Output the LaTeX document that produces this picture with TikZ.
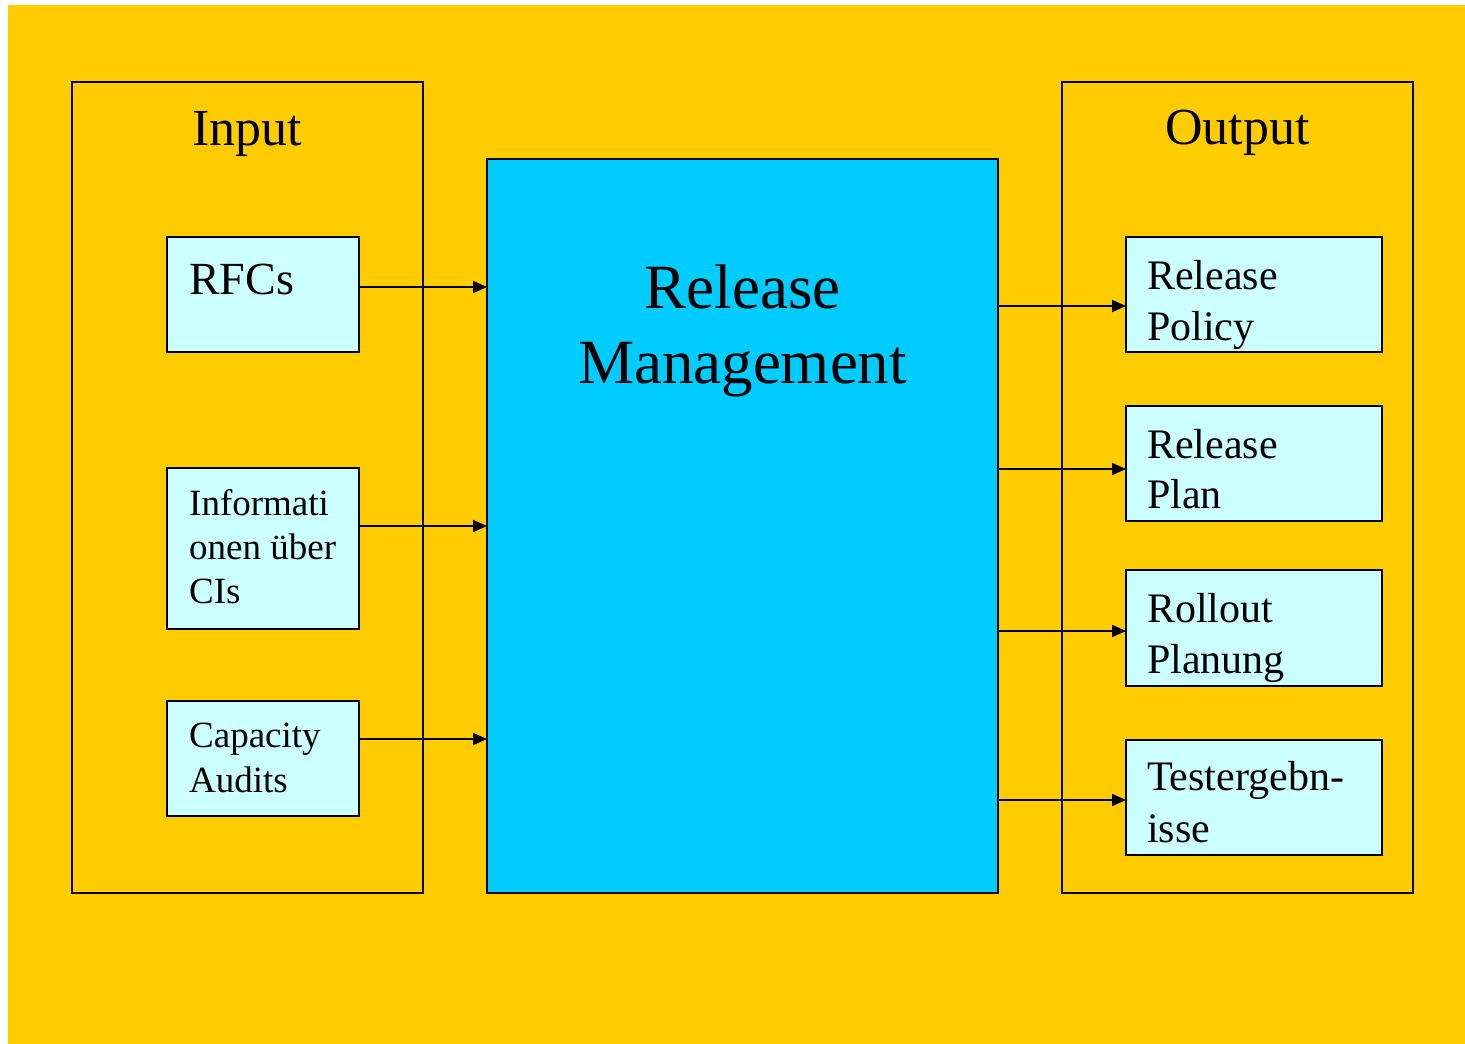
\documentclass[tikz,border=0pt]{standalone}
\usepackage{fontspec}
\setmainfont{Liberation Serif}
\usetikzlibrary{arrows.meta}
\definecolor{bgyellow}{HTML}{FFCC00}
\definecolor{mainblue}{HTML}{00CCFF}
\definecolor{lightcyan}{HTML}{CCFFFF}
\begin{document}
\begin{tikzpicture}[x=1pt,y=-1pt,
  frame/.style={draw=black, line width=2pt, inner sep=0pt, outer sep=0pt, anchor=north west},
  group/.style={frame},
  itembox/.style={frame, fill=lightcyan},
  centrebox/.style={frame, fill=mainblue},
  arr/.style={line width=2pt, -{Triangle[length=14pt,width=12pt]}},
  ttitle/.style={anchor=base, inner sep=0pt, font=\fontsize{52}{62}\selectfont},
  tmain/.style={anchor=base, inner sep=0pt, font=\fontsize{63}{75}\selectfont},
  tbig/.style={anchor=base west, inner sep=0pt, font=\fontsize{46}{55}\selectfont},
  tmid/.style={anchor=base west, inner sep=0pt, font=\fontsize{42}{50}\selectfont},
  tsmall/.style={anchor=base west, inner sep=0pt, font=\fontsize{37}{44}\selectfont}]
\useasboundingbox (0,0) rectangle (1465,1044);
\fill[bgyellow] (8,5) rectangle (1465,1044);

% group frames
\node[group, minimum width=351pt, minimum height=811pt] (infr) at (72,82) {};
\node[group, minimum width=351pt, minimum height=811pt] (outfr) at (1062,82) {};
\node[centrebox, minimum width=511pt, minimum height=734pt] (main) at (487,159) {};

% input boxes
\node[itembox, minimum width=192pt, minimum height=115pt] (rfc) at (167,237) {};
\node[itembox, minimum width=192pt, minimum height=161pt] (info) at (167,468) {};
\node[itembox, minimum width=192pt, minimum height=115pt] (cap) at (167,701) {};

% output boxes
\node[itembox, minimum width=256pt, minimum height=115pt] (pol) at (1126,237) {};
\node[itembox, minimum width=256pt, minimum height=115pt] (plan) at (1126,406) {};
\node[itembox, minimum width=256pt, minimum height=116pt] (roll) at (1126,570) {};
\node[itembox, minimum width=256pt, minimum height=115pt] (test) at (1126,740) {};

% titles
\node[ttitle] (tin) at (247.5,145) {Input};
\node[ttitle] (tout) at (1237.5,144) {Output};
\node[tmain] (tm1) at (742.5,308) {Release};
\node[tmain] (tm2) at (742.5,383) {Management};

% input texts
\node[tbig] (trfc) at (189,294) {RFCs};
\node[tsmall] (ti1) at (189,515) {Informati};
\node[tsmall] (ti2) at (189,559) {onen über};
\node[tsmall] (ti3) at (189,603) {CIs};
\node[tsmall] (tc1) at (189,747) {Capacity};
\node[tsmall] (tc2) at (189,792) {Audits};

% output texts
\node[tmid] (tp1) at (1147,289) {Release};
\node[tmid] (tp2) at (1147,340) {Policy};
\node[tmid] (tl1) at (1147,458) {Release};
\node[tmid] (tl2) at (1147,508) {Plan};
\node[tmid] (tr1) at (1147,622) {Rollout};
\node[tmid] (tr2) at (1147,673) {Planung};
\node[tmid] (tt1) at (1147,790) {Testergebn-};
\node[tmid] (tt2) at (1147,842) {isse};

% arrows in
\draw[arr] (rfc.east |- 0,287) -- (main.west |- 0,287);
\draw[arr] (info.east |- 0,526) -- (main.west |- 0,526);
\draw[arr] (cap.east |- 0,739) -- (main.west |- 0,739);

% arrows out
\draw[arr] (main.east |- 0,306) -- (pol.west |- 0,306);
\draw[arr] (main.east |- 0,469) -- (plan.west |- 0,469);
\draw[arr] (main.east |- 0,631) -- (roll.west |- 0,631);
\draw[arr] (main.east |- 0,800) -- (test.west |- 0,800);
\end{tikzpicture}
\end{document}
